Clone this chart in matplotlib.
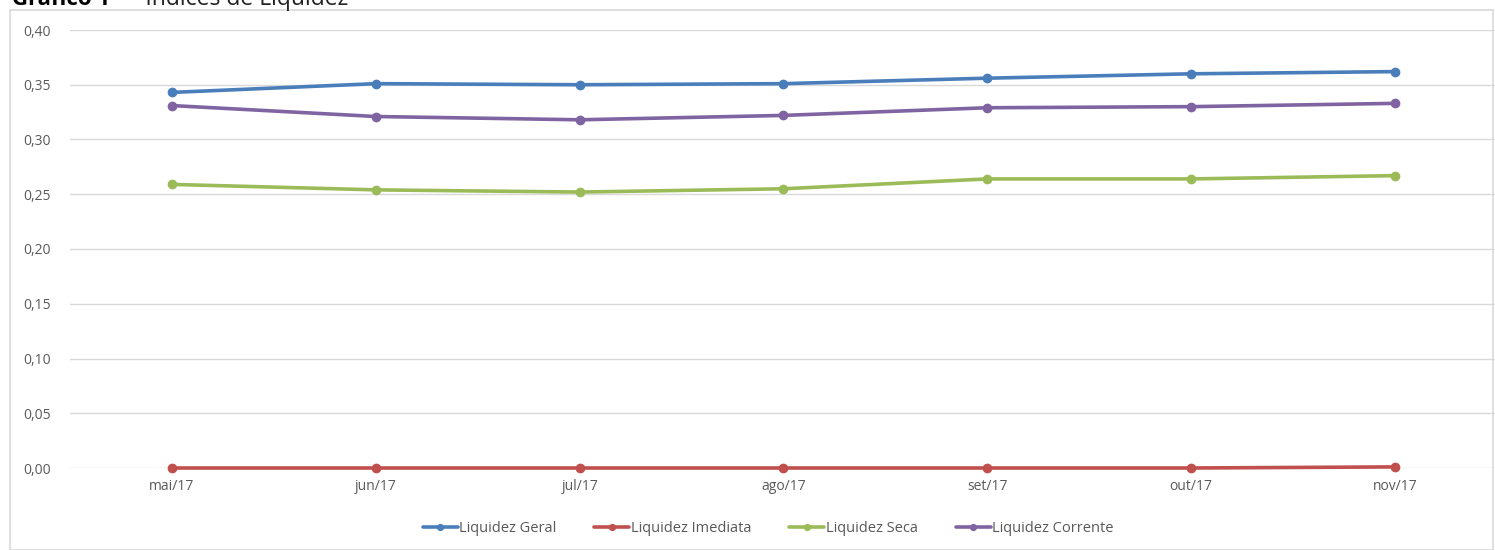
import matplotlib
matplotlib.use("Agg")
import matplotlib.pyplot as plt
from matplotlib.patches import Rectangle
from matplotlib.ticker import FuncFormatter, MultipleLocator

categories = ["mai/17", "jun/17", "jul/17", "ago/17", "set/17", "out/17", "nov/17"]
liquidez_geral = [0.343, 0.351, 0.350, 0.351, 0.356, 0.360, 0.362]
liquidez_imediata = [0.0, 0.0, 0.0, 0.0, 0.0, 0.0, 0.001]
liquidez_seca = [0.259, 0.254, 0.252, 0.255, 0.264, 0.264, 0.267]
liquidez_corrente = [0.331, 0.321, 0.318, 0.322, 0.329, 0.330, 0.333]

series = [
    ("Liquidez Geral", liquidez_geral, "#4a7ebb"),
    ("Liquidez Imediata", liquidez_imediata, "#c0504d"),
    ("Liquidez Seca", liquidez_seca, "#9bbb59"),
    ("Liquidez Corrente", liquidez_corrente, "#8064a2"),
]

plt.rcParams['font.family'] = ['Open Sans', 'DejaVu Sans']

W, H = 1495, 550
fig = plt.figure(figsize=(W / 100, H / 100), dpi=100)

# chart frame
fig.patches.append(Rectangle((10 / W, 0), (W - 12) / W, 1 - 10 / H, transform=fig.transFigure,
                             fill=False, edgecolor="#d9d9d9", linewidth=1.2))

# title (cut at top, as in the reference)
t1 = fig.text(12 / W, 1 - 5 / H, "Gráfico 1", fontsize=16, fontweight="bold", color="#000000",
              va="baseline", ha="left")
fig.canvas.draw()
bb = t1.get_window_extent()
fig.text((bb.x1) / W, 1 - 5 / H, "  –  Índices de Liquidez", fontsize=16.5, color="#222222",
         va="baseline", ha="left")

left_px, right_px = 70, 1497
top_px, bot_px = 30, 468
ax = fig.add_axes([left_px / W, 1 - bot_px / H, (right_px - left_px) / W, (bot_px - top_px) / H])
ax.set_xlim(-0.5, len(categories) - 0.5)
ax.set_ylim(0, 0.40)
ax.yaxis.set_major_locator(MultipleLocator(0.05))
ax.yaxis.set_major_formatter(FuncFormatter(lambda v, p: f"{v:.2f}".replace(".", ",")))
ax.grid(axis="y", color="#d9d9d9", linewidth=1)
ax.set_axisbelow(True)
for s in ax.spines.values():
    s.set_visible(False)
ax.tick_params(axis="both", length=0, labelsize=10, colors="#595959")
ax.tick_params(axis="y", pad=14)
ax.tick_params(axis="x", pad=8)
ax.set_xticks(range(len(categories)))
ax.set_xticklabels(categories)

x = list(range(len(categories)))
handles = []
for name, vals, col in series:
    h, = ax.plot(x, vals, color=col, linewidth=2.6, marker="o", markersize=6,
                 solid_capstyle="round", label=name, clip_on=False)
    handles.append(h)

leg = fig.legend(handles=handles, loc="center", bbox_to_anchor=(768 / W, 1 - 529 / H),
                 ncol=4, frameon=False, fontsize=10.5, handlelength=2.4, handletextpad=0.1,
                 columnspacing=2.6, markerscale=0.7)
for t in leg.get_texts():
    t.set_color("#595959")

fig.savefig("out.png", dpi=100)
